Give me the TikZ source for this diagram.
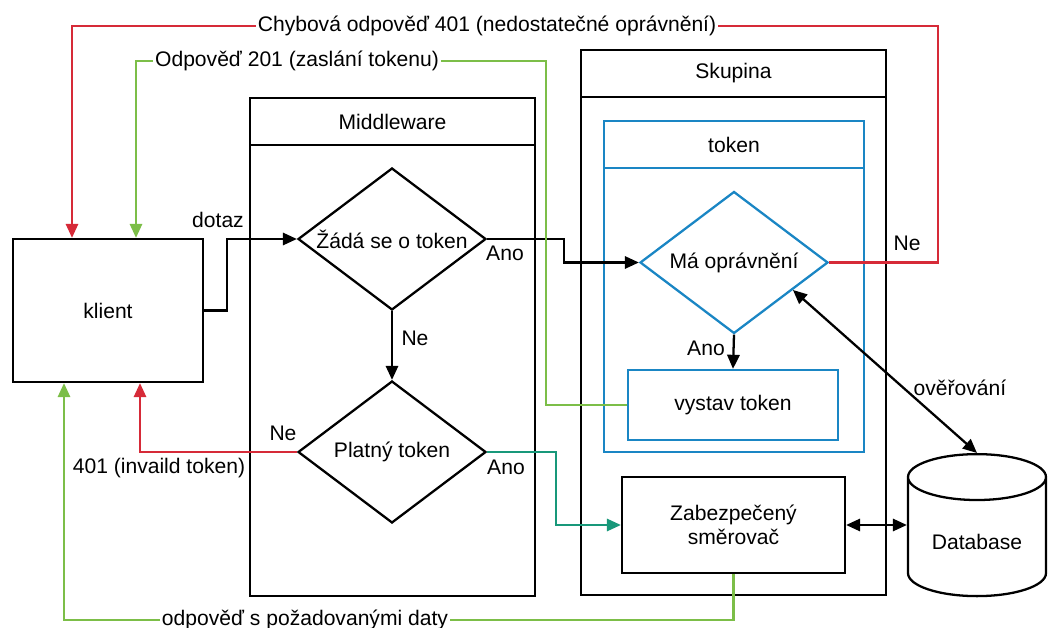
\documentclass[tikz,border=0pt]{standalone}
\usepackage{fontspec}
\setmainfont{Liberation Sans}
\usetikzlibrary{shapes.geometric, arrows.meta, positioning, calc}

\definecolor{errred}{RGB}{214,42,56}
\definecolor{okgreen}{RGB}{124,190,72}
\definecolor{tealpath}{RGB}{24,152,122}
\definecolor{tokenblue}{RGB}{26,134,196}

\begin{document}
\begin{tikzpicture}[
    x=0.02cm, y=-0.02cm,
    line width=1.3pt,
    >={Triangle[length=8pt,width=7pt]},
    font=\fontsize{12}{14}\selectfont,
    groupbox/.style={draw, rectangle, inner sep=0pt},
    headbox/.style={draw, rectangle, inner sep=0pt, minimum height=0.94cm},
    procbox/.style={draw, rectangle, align=center, inner sep=2pt},
    decision/.style={draw, diamond, aspect=1.32, inner sep=0pt,
        minimum width=3.76cm, minimum height=2.84cm, align=center},
    dbnode/.style={draw, cylinder, shape border rotate=90, aspect=0.45,
        minimum width=2.76cm, minimum height=2.84cm},
    redline/.style={draw=errred},
    greenline/.style={draw=okgreen},
    tealline/.style={draw=tealpath},
    linelabel/.style={fill=white, inner sep=1pt},
    edgetext/.style={inner sep=1pt}
]
\useasboundingbox (0,0) rectangle (1049,628);

% swimlanes
\node[groupbox, minimum width=5.7cm, minimum height=9.96cm] (mw) at (392.5,347) {};
\node[headbox, minimum width=5.7cm, anchor=north] (mwhead) at (mw.north) {Middleware};
\node[groupbox, minimum width=6.1cm, minimum height=10.9cm] (grp) at (733.5,322.5) {};
\node[headbox, minimum width=6.1cm, anchor=north] (grphead) at (grp.north) {Skupina};
\node[groupbox, draw=tokenblue, minimum width=5.2cm, minimum height=6.62cm] (tok) at (734,286.5) {};
\node[headbox, draw=tokenblue, minimum width=5.2cm, anchor=north] (tokhead) at (tok.north) {token};

% steps
\node[procbox, minimum width=3.8cm, minimum height=2.86cm] (client) at (108,310.5) {klient};
\node[decision] (askreq) at (392,239) {Žádá se o token};
\node[decision] (valid) at (392,452) {Platný token};
\node[decision, draw=tokenblue] (perm) at (734,262.5) {Má oprávnění};
\node[procbox, draw=tokenblue, minimum width=4.2cm, minimum height=1.4cm] (issue) at (733,405) {vystav token};
\node[procbox, minimum width=4.46cm, minimum height=1.92cm] (router) at (733.5,525) {Zabezpečený\\směrovač};
\node[dbnode, anchor=north] (db) at (977,453) {Database};

% black flow
\draw[->] (client.east) -- ++(23,0) |- (askreq.west);
\draw[->] (askreq.south) -- (valid.north);
\draw[->] (askreq.east) -- ++(77,0) |- (perm.west);
\draw[->] (perm.south) -- (issue.north);
\draw[<->] (router.east) -- (router.east -| db.west);
\draw[<->] (perm.-25) -- (db.north);

% coloured returns
\draw[redline, ->] (valid.west) -| ($(client.south)+(32,0)$);
\draw[redline, ->] (perm.east) -| (938,26) -- (72,26) -- ($(client.north)+(-36,0)$);
\draw[greenline, ->] (issue.west) -| (546,61) -- (136,61) -- ($(client.north)+(28,0)$);
\draw[greenline, ->] (router.south) |- (64,620) -- ($(client.south)+(-44,0)$);
\draw[tealline, ->] (valid.east) -- ++(69,0) |- (router.west);

% labels
\node[linelabel] (errlbl) at (487,26) {Chybová odpověď 401 (nedostatečné oprávnění)};
\node[linelabel] (toklbl) at (297,61) {Odpověď 201 (zaslání tokenu)};
\node[linelabel] (datalbl) at (305,620) {odpověď s požadovanými daty};
\node[edgetext] (dotazlbl) at (218,220) {dotaz};
\node[edgetext] (askyes) at (505,253) {Ano};
\node[edgetext] (askno) at (415,338) {Ne};
\node[edgetext] (validno) at (283,433) {Ne};
\node[edgetext] (validyes) at (506,467) {Ano};
\node[edgetext] (invlbl) at (159,468) {401 (invaild token)};
\node[edgetext] (permyes) at (706,348) {Ano};
\node[edgetext] (permno) at (907,243) {Ne};
\node[edgetext] (authlbl) at (960,388) {ověřování};
\end{tikzpicture}
\end{document}
